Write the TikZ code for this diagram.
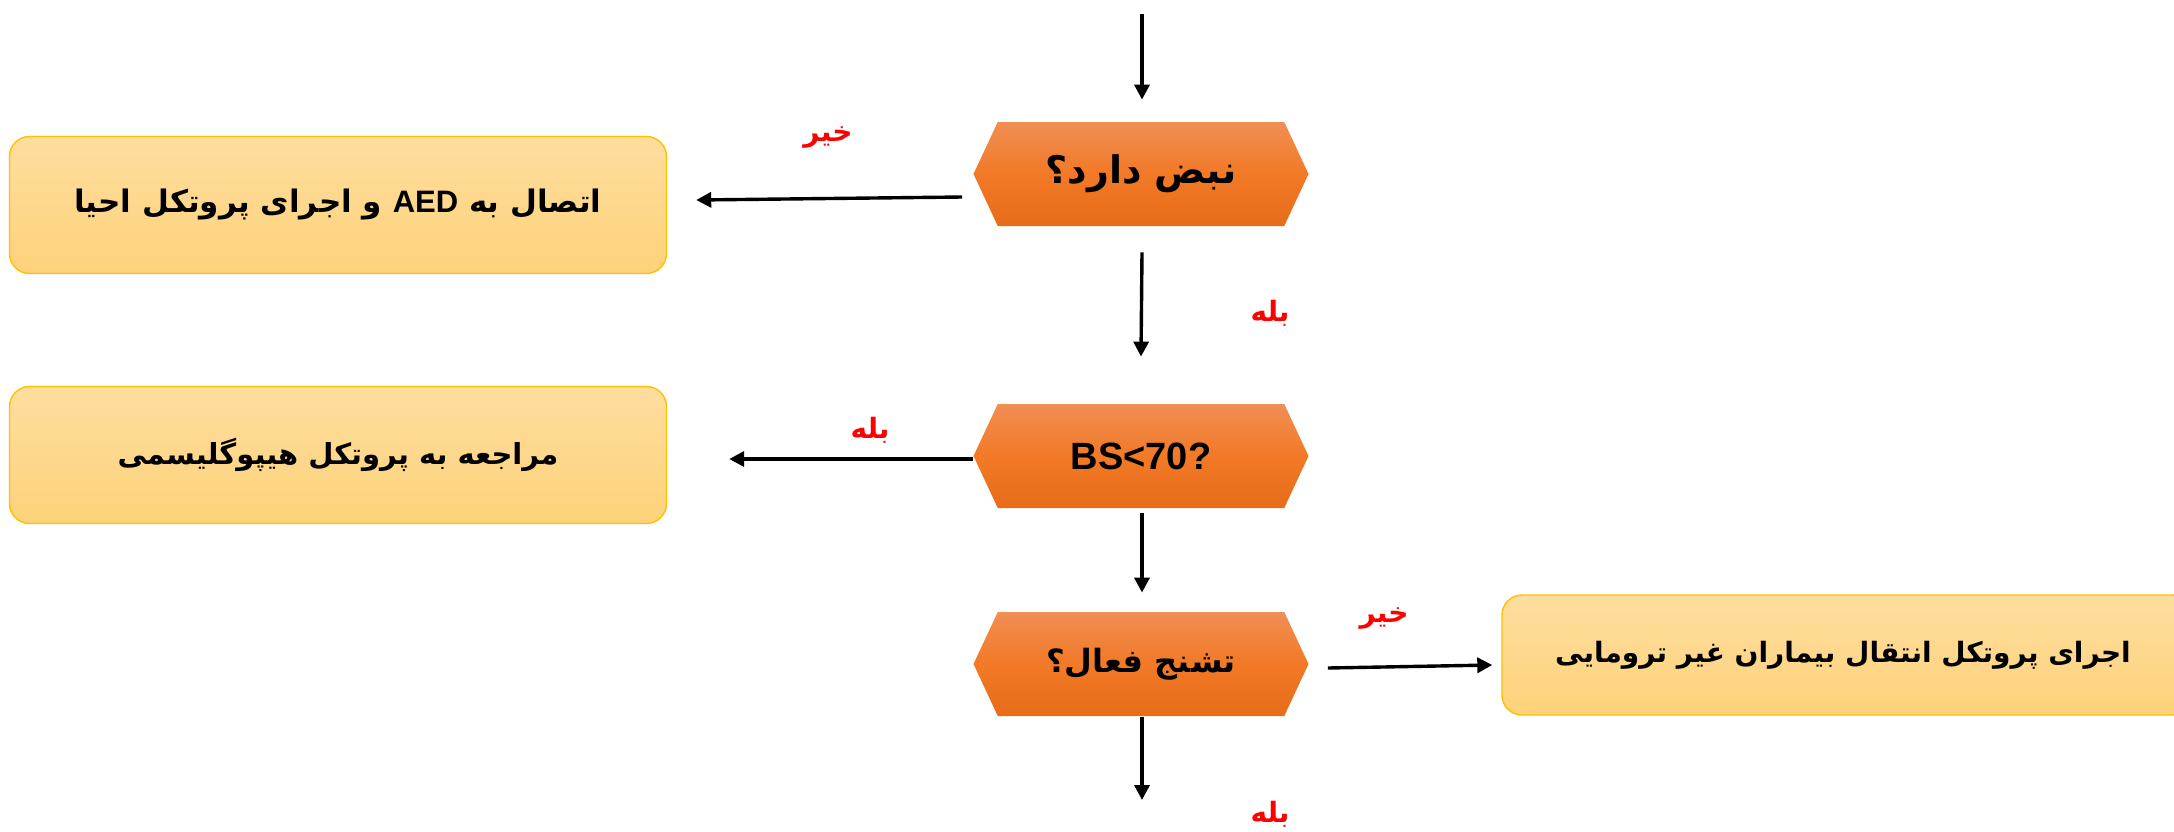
\documentclass[tikz,border=0pt]{standalone}
\usepackage{fontspec}
\setmainfont{Liberation Sans}
\newfontfamily\fa[Script=Arabic]{DejaVu Sans}
\newfontfamily\lat{Liberation Sans}
\TeXXeTstate=1
\usetikzlibrary{shapes.symbols,arrows.meta}
\definecolor{hexTop}{RGB}{240,142,84}
\definecolor{hexMid}{RGB}{242,121,38}
\definecolor{hexBot}{RGB}{232,108,26}
\definecolor{boxTop}{RGB}{254,221,158}
\definecolor{boxBot}{RGB}{253,210,122}
\definecolor{boxLine}{RGB}{255,192,0}
\definecolor{lblRed}{RGB}{255,0,0}
\begin{document}
\begin{tikzpicture}[x=0.5pt,y=-0.5pt,
  hexbox/.style={shape=signal, signal to=west and east, signal pointer angle=130,
    minimum width=167.5pt, minimum height=52pt, inner sep=0pt,
    top color=hexTop, bottom color=hexBot, middle color=hexMid, draw=none},
  actbox/.style={rectangle, rounded corners=10pt, draw=boxLine, line width=0.7pt,
    top color=boxTop, bottom color=boxBot, inner sep=0pt},
  arr/.style={-{Triangle[length=7.5pt,width=7.5pt]}, line width=1.7pt},
  lbl/.style={text=lblRed, font=\fa\bfseries\fontsize{14}{16}\selectfont},
  hexfont/.style={font=\fa\bfseries\fontsize{#1}{22}\selectfont},
  boxfont/.style={font=\fa\bfseries\fontsize{#1}{19}\selectfont}]
\clip (0,0) rectangle (2174,831);
% decision nodes
\node[hexbox,hexfont=19] (q1) at (1141,174) {\beginR نبض دارد؟\endR};
\node[hexbox,font=\lat\bfseries\fontsize{19}{22}\selectfont] (q2) at (1141,456) {BS<70?};
\node[hexbox,hexfont=16] (q3) at (1141,664) {\beginR تشنج فعال؟\endR};
% action boxes
\node[actbox,boxfont=15.5,minimum width=328.5pt,minimum height=68.5pt] (b1) at (338,205)
  {\beginR اتصال به {\lat\bfseries\beginL AED\endL} و اجرای پروتکل احیا\endR};
\node[actbox,boxfont=14.5,minimum width=328.5pt,minimum height=68.5pt] (b2) at (338,455)
  {\beginR مراجعه به پروتکل هیپوگلیسمی\endR};
\node[actbox,minimum width=345pt,minimum height=60pt] (b3) at (1847,655) {};
\node[boxfont=14,inner sep=0pt] (t3) at (1843,655)
  {\beginR اجرای پروتکل انتقال بیماران غیر ترومایی\endR};
% free ends
\coordinate (top) at (1142,14);
\coordinate (bot) at (1142,800);
% connectors
\draw[arr] (top) -- ([shift={(1,-22)}]q1.north);
\draw[arr] ([shift={(-11,23)}]q1.west) -- ([shift={(29,-5)}]b1.east);
\draw[arr] ([shift={(1,26)}]q1.south) -- ([shift={(0,-47)}]q2.north);
\draw[arr] ([shift={(0,3)}]q2.west) -- ([shift={(62,4)}]b2.east);
\draw[arr] ([shift={(1,5)}]q2.south) -- ([shift={(1,-19)}]q3.north);
\draw[arr] ([shift={(19,4)}]q3.east) -- ([shift={(-9,10)}]b3.west);
\draw[arr] ([shift={(1,1)}]q3.south) -- (bot);
% labels
\node[lbl] (l1) at (828,137) {\beginR خیر\endR};
\node[lbl] (l2) at (1270,313) {\beginR بله\endR};
\node[lbl] (l3) at (870,430) {\beginR بله\endR};
\node[lbl] (l4) at (1384,618) {\beginR خیر\endR};
\node[lbl] (l5) at (1270,814) {\beginR بله\endR};
\end{tikzpicture}
\end{document}
